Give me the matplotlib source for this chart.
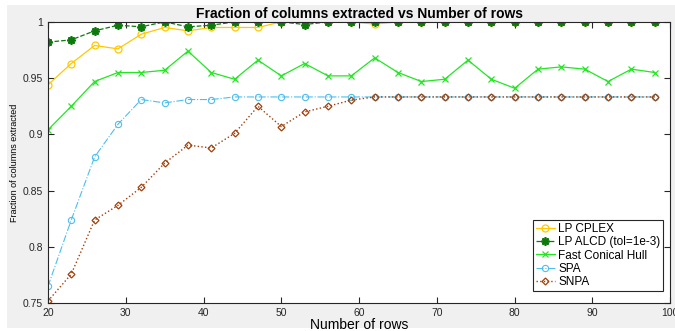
import numpy as np
import matplotlib
matplotlib.use("Agg")
import matplotlib.pyplot as plt
from matplotlib.patches import Rectangle

plt.rcParams['font.family'] = ['Liberation Sans', 'DejaVu Sans']

# number of rows (x axis)
rows = list(range(20, 99, 3))

# fraction of columns extracted
lp_cplex = [0.944, 0.963, 0.979, 0.976, 0.989, 0.995, 0.992, 0.995, 0.995, 0.995,
            1.0, 1.0, 1.0, 1.0, 0.998, 1.0, 1.0, 1.0, 1.0, 1.0,
            1.0, 1.0, 1.0, 1.0, 1.0, 1.0, 1.0]
lp_alcd = [0.982, 0.984, 0.992, 0.997, 0.9956, 1.0, 0.9956, 0.997, 1.0, 1.0,
           1.0, 0.9976, 1.0, 1.0, 1.0, 1.0, 1.0, 1.0, 1.0, 1.0,
           1.0, 1.0, 1.0, 1.0, 1.0, 1.0, 1.0]
fast_hull = [0.904, 0.925, 0.947, 0.955, 0.955, 0.957, 0.974, 0.955, 0.949, 0.966,
             0.952, 0.963, 0.952, 0.952, 0.968, 0.955, 0.947, 0.949, 0.966, 0.949,
             0.941, 0.958, 0.960, 0.958, 0.947, 0.958, 0.955]
spa = [0.765, 0.824, 0.880, 0.909, 0.931, 0.928, 0.931, 0.931, 0.9333, 0.9333,
       0.9333, 0.9333, 0.9333, 0.9333, 0.9333, 0.9333, 0.9333, 0.9333, 0.9333, 0.9333,
       0.9333, 0.9333, 0.9333, 0.9333, 0.9333, 0.9333, 0.9333]
snpa = [0.752, 0.776, 0.824, 0.837, 0.853, 0.8745, 0.8905, 0.888, 0.901, 0.925,
        0.907, 0.920, 0.925, 0.9305, 0.9333, 0.9333, 0.9333, 0.9333, 0.9333, 0.9333,
        0.9333, 0.9333, 0.9333, 0.9333, 0.9333, 0.9333, 0.9333]

fig = plt.figure(figsize=(6.75, 3.31), dpi=100, facecolor='white')
# grey matlab-style window background
fig.patches.append(Rectangle((7 / 675, 3 / 331), 1, 323 / 331, transform=fig.transFigure,
                             facecolor='#f0f0f0', edgecolor='none', zorder=-10))
ax = fig.add_axes([0.071, 0.0836, 0.922, 0.8504])

asterisk = (8, 2, 0)
ax.plot(rows, lp_cplex, '-o', color='#ffc800', lw=0.9, ms=5, mfc='none', mew=0.9,
        label='LP CPLEX')
ax.plot(rows, lp_alcd, '--', marker=asterisk, color='#0a7a0a', lw=0.9, ms=6, mew=1.3,
        label='LP ALCD (tol=1e-3)')
ax.plot(rows, fast_hull, '-x', color='#22e622', lw=0.9, ms=4.5, mew=0.9,
        label='Fast Conical Hull')
ax.plot(rows, spa, '-.o', color='#4dbeee', lw=0.8, ms=4.5, mfc='none', mew=0.8,
        label='SPA')
ax.plot(rows, snpa, ':D', color='#a0400a', lw=1.0, ms=3.5, mfc='none', mew=0.9,
        label='SNPA')

ax.set_xlim(20, 100)
ax.set_ylim(0.75, 1.0)
ax.set_xticks(range(20, 101, 10))
ax.set_yticks([0.75, 0.8, 0.85, 0.9, 0.95, 1.0])
ax.set_yticklabels(['0.75', '0.8', '0.85', '0.9', '0.95', '1'])
ax.tick_params(direction='in', top=True, right=True, labelsize=7.5, length=4,
               width=0.8, colors='#262626')
for s in ax.spines.values():
    s.set_linewidth(0.8)
    s.set_color('#262626')

ax.set_title('Fraction of columns extracted vs Number of rows', fontsize=10,
             fontweight='bold', pad=3)
ax.set_xlabel('Number of rows', fontsize=10, labelpad=0)
ax.set_ylabel('Fraction of columns extracted', fontsize=6.5, labelpad=3)

leg = ax.legend(loc='lower right', bbox_to_anchor=(0.989, 0.044), borderaxespad=0,
                fontsize=8.5, fancybox=False, edgecolor='#262626', framealpha=1,
                handlelength=1.6, handletextpad=0.3, labelspacing=0.1,
                borderpad=0.25)
leg.get_frame().set_linewidth(0.8)

fig.savefig('out.png', dpi=100, facecolor=fig.get_facecolor())
